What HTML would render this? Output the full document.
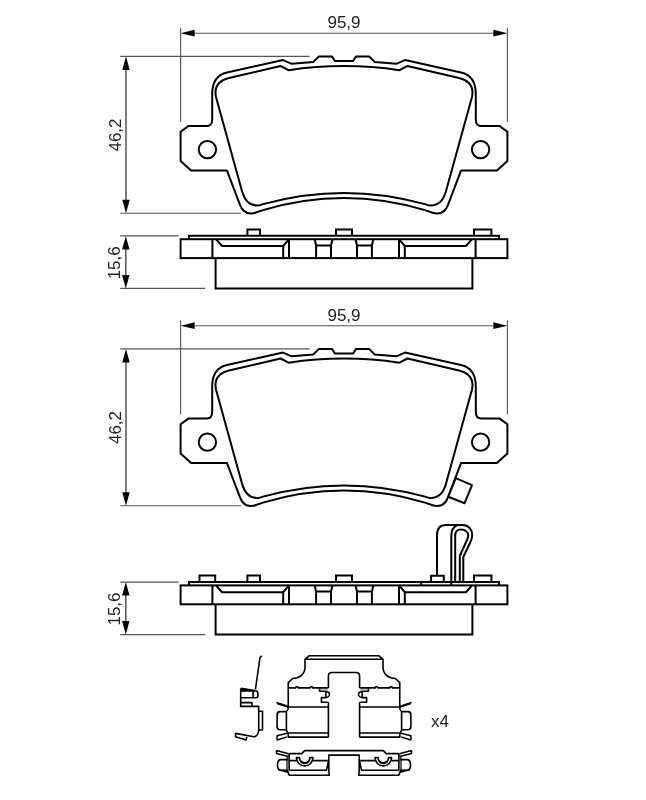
<!DOCTYPE html>
<html><head><meta charset="utf-8"><style>
html,body{margin:0;padding:0;background:#fff;width:646px;height:800px;overflow:hidden}
svg{display:block;will-change:transform}
text{font-family:"Liberation Sans",sans-serif;fill:#222}
</style></head><body>
<svg width="646" height="800" viewBox="0 0 646 800">
<g transform="translate(0,0)">
<g stroke="#555" stroke-width="1.1" fill="none">
<line x1="180.6" y1="28" x2="180.6" y2="122"/>
<line x1="507.4" y1="28" x2="507.4" y2="122"/>
<line x1="190" y1="33.2" x2="498" y2="33.2"/>
<line x1="120.3" y1="56.4" x2="309.5" y2="56.4"/>
<line x1="120.3" y1="213.3" x2="241" y2="213.3"/>
<line x1="126" y1="66" x2="126" y2="204" stroke-width="1.5"/>
</g>
<g fill="#000">
<path d="M180.6,33.2 L194.6,29.8 L194.6,36.6 Z"/>
<path d="M507.4,33.2 L493.4,29.8 L493.4,36.6 Z"/>
<path d="M126,56.4 L122.3,70 L129.7,70 Z"/>
<path d="M126,213.3 L122.3,199.7 L129.7,199.7 Z"/>
</g>
<text x="344" y="28.2" text-anchor="middle" font-size="17">95,9</text>
<text transform="translate(120.8,135) rotate(-90)" text-anchor="middle" font-size="17">46,2</text>
</g>
<g transform="translate(0,0)" fill="none" stroke="#000" stroke-width="2" stroke-linejoin="round">
<path d="M344.00,61.10 L335.00,61.10 L331.90,56.40 L318.90,56.40 L313.30,62.00 L291.70,63.80 L283.00,60.10 L227.00,72.40 C217.50,74.50 212.20,81.00 212.20,94.00 L212.20,119.40 Q212.20,125.90 206.60,125.90 L188.60,125.90 L180.60,131.80 L180.60,161.00 L191.10,170.60 L227.00,170.60 L239.80,204.30 C242.00,210.50 246.50,214.20 253.00,213.30 C257.00,212.80 259.00,211.00 262.00,210.40 Q303.00,198.00 344.00,198.00 Q385.00,198.00 426.00,210.40 C429.00,211.00 431.00,212.80 435.00,213.30 C441.50,214.20 446.00,210.50 448.20,204.30 L461.00,170.60 L496.90,170.60 L507.40,161.00 L507.40,131.80 L499.40,125.90 L481.40,125.90 Q475.80,125.90 475.80,119.40 L475.80,94.00 C475.80,81.00 470.50,74.50 461.00,72.40 L405.00,60.10 L396.30,63.80 L374.70,62.00 L369.10,56.40 L356.10,56.40 L353.00,61.10 L344.00,61.10 Z"/>
<path d="M344.00,66.10 Q316.00,66.10 288.60,70.20 L280.50,66.00 L229.00,78.00 C219.00,80.50 214.00,87.00 216.00,97.00 L242.10,191.50 C244.80,201.00 250.00,205.80 258.00,205.40 C260.00,205.30 261.30,204.70 263.00,204.10 Q303.50,192.90 344.00,192.90 Q384.50,192.90 425.00,204.10 C426.70,204.70 428.00,205.30 430.00,205.40 C438.00,205.80 443.20,201.00 445.90,191.50 L472.00,97.00 C474.00,87.00 469.00,80.50 459.00,78.00 L407.50,66.00 L399.40,70.20 Q372.00,66.10 344.00,66.10 Z"/>
<circle cx="207.4" cy="149.6" r="8.7"/>
<circle cx="480.60" cy="149.6" r="8.7"/>
</g>
<g transform="translate(0,0)">
<g stroke="#555" stroke-width="1.1" fill="none">
<line x1="120.3" y1="235.9" x2="178.7" y2="235.9"/>
<line x1="120.3" y1="288.4" x2="205.3" y2="288.4"/>
<line x1="125.8" y1="245" x2="125.8" y2="279" stroke-width="1.5"/>
</g>
<g fill="#000">
<path d="M125.8,235.9 L122.1,249.4 L129.5,249.4 Z"/>
<path d="M125.8,288.4 L122.1,274.9 L129.5,274.9 Z"/>
</g>
<text transform="translate(119.8,262.8) rotate(-90)" text-anchor="middle" font-size="17">15,6</text>
</g>
<g transform="translate(0,0)" fill="none" stroke="#000" stroke-width="2">
<path d="M189,239.2 L189,235.7 L499,235.7 L499,239.2"/>
<rect x="180.6" y="239.2" width="326.8" height="18.9"/>
<path d="M215.6,258.1 L215.6,288.4 L472.4,288.4 L472.4,258.1"/>
<path d="M247.4,235.7 L247.4,229.4 L260.0,229.4 L260.0,235.7"/>
<path d="M336.0,235.7 L336.0,229.4 L352.0,229.4 L352.0,235.7"/>
<path d="M474.0,235.7 L474.0,229.4 L491.4,229.4 L491.4,235.7"/>
<line x1="212.4" y1="239.2" x2="212.4" y2="258.1"/>
<line x1="475.6" y1="239.2" x2="475.6" y2="258.1"/>
<path d="M216,239.2 L222,246 L283.2,246 L289,239.2 M283.2,246 L283.2,258.1 M289,239.2 L289,258.1"/>
<path d="M472.0,239.2 L466.0,246 L404.8,246 L399.0,239.2 M404.8,246 L404.8,258.1 M399.0,239.2 L399.0,258.1"/>
<path d="M314.7,239.2 L316.1,245.4 L331,245.4 L332.5,239.2 M316.1,245.4 L316.1,258.1 M331,245.4 L331,258.1"/>
<path d="M373.3,239.2 L371.9,245.4 L357.0,245.4 L355.5,239.2 M371.9,245.4 L371.9,258.1 M357.0,245.4 L357.0,258.1"/>

</g>
<g transform="translate(0,292.5)">
<g stroke="#555" stroke-width="1.1" fill="none">
<line x1="180.6" y1="28" x2="180.6" y2="122"/>
<line x1="507.4" y1="28" x2="507.4" y2="122"/>
<line x1="190" y1="33.2" x2="498" y2="33.2"/>
<line x1="120.3" y1="56.4" x2="309.5" y2="56.4"/>
<line x1="120.3" y1="213.3" x2="241" y2="213.3"/>
<line x1="126" y1="66" x2="126" y2="204" stroke-width="1.5"/>
</g>
<g fill="#000">
<path d="M180.6,33.2 L194.6,29.8 L194.6,36.6 Z"/>
<path d="M507.4,33.2 L493.4,29.8 L493.4,36.6 Z"/>
<path d="M126,56.4 L122.3,70 L129.7,70 Z"/>
<path d="M126,213.3 L122.3,199.7 L129.7,199.7 Z"/>
</g>
<text x="344" y="28.2" text-anchor="middle" font-size="17">95,9</text>
<text transform="translate(120.8,135) rotate(-90)" text-anchor="middle" font-size="17">46,2</text>
</g>
<g transform="translate(0,292.5)" fill="none" stroke="#000" stroke-width="2" stroke-linejoin="round">
<path d="M344.00,61.10 L335.00,61.10 L331.90,56.40 L318.90,56.40 L313.30,62.00 L291.70,63.80 L283.00,60.10 L227.00,72.40 C217.50,74.50 212.20,81.00 212.20,94.00 L212.20,119.40 Q212.20,125.90 206.60,125.90 L188.60,125.90 L180.60,131.80 L180.60,161.00 L191.10,170.60 L227.00,170.60 L239.80,204.30 C242.00,210.50 246.50,214.20 253.00,213.30 C257.00,212.80 259.00,211.00 262.00,210.40 Q303.00,198.00 344.00,198.00 Q385.00,198.00 426.00,210.40 C429.00,211.00 431.00,212.80 435.00,213.30 C441.50,214.20 446.00,210.50 448.20,204.30 L461.00,170.60 L496.90,170.60 L507.40,161.00 L507.40,131.80 L499.40,125.90 L481.40,125.90 Q475.80,125.90 475.80,119.40 L475.80,94.00 C475.80,81.00 470.50,74.50 461.00,72.40 L405.00,60.10 L396.30,63.80 L374.70,62.00 L369.10,56.40 L356.10,56.40 L353.00,61.10 L344.00,61.10 Z"/>
<path d="M344.00,66.10 Q316.00,66.10 288.60,70.20 L280.50,66.00 L229.00,78.00 C219.00,80.50 214.00,87.00 216.00,97.00 L242.10,191.50 C244.80,201.00 250.00,205.80 258.00,205.40 C260.00,205.30 261.30,204.70 263.00,204.10 Q303.50,192.90 344.00,192.90 Q384.50,192.90 425.00,204.10 C426.70,204.70 428.00,205.30 430.00,205.40 C438.00,205.80 443.20,201.00 445.90,191.50 L472.00,97.00 C474.00,87.00 469.00,80.50 459.00,78.00 L407.50,66.00 L399.40,70.20 Q372.00,66.10 344.00,66.10 Z"/>
<circle cx="207.4" cy="149.6" r="8.7"/>
<circle cx="480.60" cy="149.6" r="8.7"/>
</g>
<g transform="translate(0,346.2)">
<g stroke="#555" stroke-width="1.1" fill="none">
<line x1="120.3" y1="235.9" x2="178.7" y2="235.9"/>
<line x1="120.3" y1="288.4" x2="205.3" y2="288.4"/>
<line x1="125.8" y1="245" x2="125.8" y2="279" stroke-width="1.5"/>
</g>
<g fill="#000">
<path d="M125.8,235.9 L122.1,249.4 L129.5,249.4 Z"/>
<path d="M125.8,288.4 L122.1,274.9 L129.5,274.9 Z"/>
</g>
<text transform="translate(119.8,262.8) rotate(-90)" text-anchor="middle" font-size="17">15,6</text>
</g>
<g transform="translate(0,346.2)" fill="none" stroke="#000" stroke-width="2">
<path d="M189,239.2 L189,235.7 L499,235.7 L499,239.2"/>
<rect x="180.6" y="239.2" width="326.8" height="18.9"/>
<path d="M215.6,258.1 L215.6,288.4 L472.4,288.4 L472.4,258.1"/>
<path d="M247.4,235.7 L247.4,229.4 L260.0,229.4 L260.0,235.7"/>
<path d="M336.0,235.7 L336.0,229.4 L352.0,229.4 L352.0,235.7"/>
<path d="M474.0,235.7 L474.0,229.4 L491.4,229.4 L491.4,235.7"/>
<line x1="212.4" y1="239.2" x2="212.4" y2="258.1"/>
<line x1="475.6" y1="239.2" x2="475.6" y2="258.1"/>
<path d="M216,239.2 L222,246 L283.2,246 L289,239.2 M283.2,246 L283.2,258.1 M289,239.2 L289,258.1"/>
<path d="M472.0,239.2 L466.0,246 L404.8,246 L399.0,239.2 M404.8,246 L404.8,258.1 M399.0,239.2 L399.0,258.1"/>
<path d="M314.7,239.2 L316.1,245.4 L331,245.4 L332.5,239.2 M316.1,245.4 L316.1,258.1 M331,245.4 L331,258.1"/>
<path d="M373.3,239.2 L371.9,245.4 L357.0,245.4 L355.5,239.2 M371.9,245.4 L371.9,258.1 M357.0,245.4 L357.0,258.1"/>

</g>
<path d="M455.7,478.1 L472,485.1 L464.6,503.2 L448.3,496.7 Z" fill="#fff" stroke="#000" stroke-width="2" stroke-linejoin="round"/>
<path fill="none" stroke="#000" stroke-width="2" d="M199.5,581.9 L199.5,575.6 L215.2,575.6 L215.2,581.9"/>
<path fill="none" stroke="#000" stroke-width="2" d="M431.1,581.9 L431.1,575.8 L443.8,575.8 L443.8,581.9"/>
<path fill="none" stroke="#000" stroke-width="2" d="M421.2,581.6 L421.2,585.2 M451.3,581.6 L451.3,585.2"/>
<path fill="none" stroke="#000" stroke-width="2" stroke-linejoin="round" d="M437,575.8 L437,535.5 C437,529 440,525.1 446,525.1 L462.5,525.1 C469,525.1 472.2,530 472.2,535 C472.2,538 471.5,540 470,543 L463.3,557 L463.3,581.6"/>
<path fill="none" stroke="#000" stroke-width="2" stroke-linejoin="round" d="M451.3,581.6 L451.3,535.8 C451.3,530 453,527 457,525.3"/>
<path fill="none" stroke="#000" stroke-width="2" stroke-linejoin="round" d="M455.2,581.6 L455.2,535.8 C455.2,531 457.5,529.5 461,529.5 C465,529.5 468.3,532 468.3,535.5 C468.3,537.5 467.5,539 466.5,541 L459.8,556 L459.8,581.6"/>
<g fill="none" stroke="#000" stroke-width="1.6" stroke-linejoin="round">
<path d="M261.8,655.8 L260,657.6 L255.4,689.5"/>
<path d="M240.7,688.4 L255,690.6 M240.7,688.4 L240.7,706.4 L258.7,706.4 L258.7,729.3 C258.7,733 257,736.5 254,736.7 L235.5,733.4 L235.5,736.8 L246,740 L246.8,736.9"/>
<path d="M240.7,691 L256,691 C257.5,691 258,692.5 258,694.5 L258,695 C258,697 257.5,697.8 256,697.8 L240.7,697.8 M253.1,691 L253.1,697.8"/>
<path d="M240.7,702.6 L252,702.6 L252,706.4"/>
<path d="M258.7,711.3 L262.5,711.3 L262.5,730 L258.7,730"/>
</g>
<path d="M240.7,688 L255,690.3 L240.7,691.5 Z" fill="#000"/>
<g><g fill="none" stroke="#000" stroke-width="1.6" stroke-linejoin="round">
<path d="M344,655.8 L309.1,655.8 L305,659.3 L344,659.3"/>
<path d="M305,659.3 L305,667.3 C305,674 299.5,678.5 292.6,678.5 L288.25,682.6 L288.25,708 C288.25,709.5 287.5,710.8 286.4,711.6 L286.4,729.2 C286.4,731 287.5,732.5 288.25,733 L288.25,737.1 L328.6,737.1"/>
<path d="M288.25,687.9 L295.5,687.9 C296,686.2 297.8,686.2 298.3,687.9 L310,687.9 C310.5,686.2 312.3,686.2 312.8,687.9 L328.4,687.9"/>
<path d="M319.6,688.6 L319.6,691.3 L325.4,691.3 A4.1,3.15 0 0 1 325.4,697.6 L321.4,697.6 L321.4,702.2 L328.4,702.2 M325.9,691.5 L325.9,697.4"/>
<path d="M320,689.6 L327.5,689.6" stroke-width="0.8" stroke="#999"/>
<path d="M328.4,737.1 L328.4,702.2 M328.4,687.9 L328.4,676 C328.4,673.8 329.8,672.5 332,672.5 L344,672.5"/>
<path d="M288.25,707 L328.6,707 M288.25,733 L328.6,733"/>
<path d="M286.4,711.6 L280,711.6 C278,711.6 277.1,713 277.1,715 L277.1,726.5 C277.1,728.5 278,729.7 280,729.7 L286.4,729.7"/>
<path d="M288.25,733 L277.1,735.8 L277.1,739.9 L287,737.1"/>
</g>
<path d="M276.8,702.3 L288.3,706 L288,707.4 L277.2,703.9 Z" fill="#000" stroke="#000" stroke-width="0.9"/><g fill="none" stroke="#000" stroke-width="1.6" stroke-linejoin="round">
<path d="M344,750.6 L304.7,750.6 L301.7,753.6 L289.1,753.6"/>
<path d="M276.5,750.6 L288.6,753.8 M276.5,750.6 L276.5,753.4 L288.6,756.6"/>
<path d="M289.1,753.6 L289.1,770.6 M287.2,770.6 L289.3,775.2 L329.3,775.2 L328.8,771 L328.8,755.1 L344,755.1"/><path d="M287,757 L287,770.5" stroke-width="1.2"/>
<path d="M289.1,760.6 L296.3,760.6 M313.1,760.6 L327.8,760.6 M289.1,770.2 L326.5,770.2 L328.5,761"/>
<path d="M288.1,759.6 L281,759.6 C278.5,759.6 277.5,762 277.5,765 C277.5,768 278.5,770.2 281,770.2 L288.1,770.2"/>
<path d="M278,769.5 L288.6,772.4"/>
<path d="M296.4,757.6 A8.3,8.3 0 0 0 313,757.6 L310,757.6 A5.3,5.3 0 0 1 299.4,757.6 Z"/>
</g>
<path d="M300.2,760.6 Q304.7,764 309.2,760.6 L309.5,762 Q304.7,766.5 299.9,762 Z" fill="#000"/></g>
<g transform="matrix(-1,0,0,1,688,0)"><g fill="none" stroke="#000" stroke-width="1.6" stroke-linejoin="round">
<path d="M344,655.8 L309.1,655.8 L305,659.3 L344,659.3"/>
<path d="M305,659.3 L305,667.3 C305,674 299.5,678.5 292.6,678.5 L288.25,682.6 L288.25,708 C288.25,709.5 287.5,710.8 286.4,711.6 L286.4,729.2 C286.4,731 287.5,732.5 288.25,733 L288.25,737.1 L328.6,737.1"/>
<path d="M288.25,687.9 L295.5,687.9 C296,686.2 297.8,686.2 298.3,687.9 L310,687.9 C310.5,686.2 312.3,686.2 312.8,687.9 L328.4,687.9"/>
<path d="M319.6,688.6 L319.6,691.3 L325.4,691.3 A4.1,3.15 0 0 1 325.4,697.6 L321.4,697.6 L321.4,702.2 L328.4,702.2 M325.9,691.5 L325.9,697.4"/>
<path d="M320,689.6 L327.5,689.6" stroke-width="0.8" stroke="#999"/>
<path d="M328.4,737.1 L328.4,702.2 M328.4,687.9 L328.4,676 C328.4,673.8 329.8,672.5 332,672.5 L344,672.5"/>
<path d="M288.25,707 L328.6,707 M288.25,733 L328.6,733"/>
<path d="M286.4,711.6 L280,711.6 C278,711.6 277.1,713 277.1,715 L277.1,726.5 C277.1,728.5 278,729.7 280,729.7 L286.4,729.7"/>
<path d="M288.25,733 L277.1,735.8 L277.1,739.9 L287,737.1"/>
</g>
<path d="M276.8,702.3 L288.3,706 L288,707.4 L277.2,703.9 Z" fill="#000" stroke="#000" stroke-width="0.9"/><g fill="none" stroke="#000" stroke-width="1.6" stroke-linejoin="round">
<path d="M344,750.6 L304.7,750.6 L301.7,753.6 L289.1,753.6"/>
<path d="M276.5,750.6 L288.6,753.8 M276.5,750.6 L276.5,753.4 L288.6,756.6"/>
<path d="M289.1,753.6 L289.1,770.6 M287.2,770.6 L289.3,775.2 L329.3,775.2 L328.8,771 L328.8,755.1 L344,755.1"/><path d="M287,757 L287,770.5" stroke-width="1.2"/>
<path d="M289.1,760.6 L296.3,760.6 M313.1,760.6 L327.8,760.6 M289.1,770.2 L326.5,770.2 L328.5,761"/>
<path d="M288.1,759.6 L281,759.6 C278.5,759.6 277.5,762 277.5,765 C277.5,768 278.5,770.2 281,770.2 L288.1,770.2"/>
<path d="M278,769.5 L288.6,772.4"/>
<path d="M296.4,757.6 A8.3,8.3 0 0 0 313,757.6 L310,757.6 A5.3,5.3 0 0 1 299.4,757.6 Z"/>
</g>
<path d="M300.2,760.6 Q304.7,764 309.2,760.6 L309.5,762 Q304.7,766.5 299.9,762 Z" fill="#000"/></g>
<text x="431" y="726.9" font-size="17">x4</text>
</svg>
</body></html>
